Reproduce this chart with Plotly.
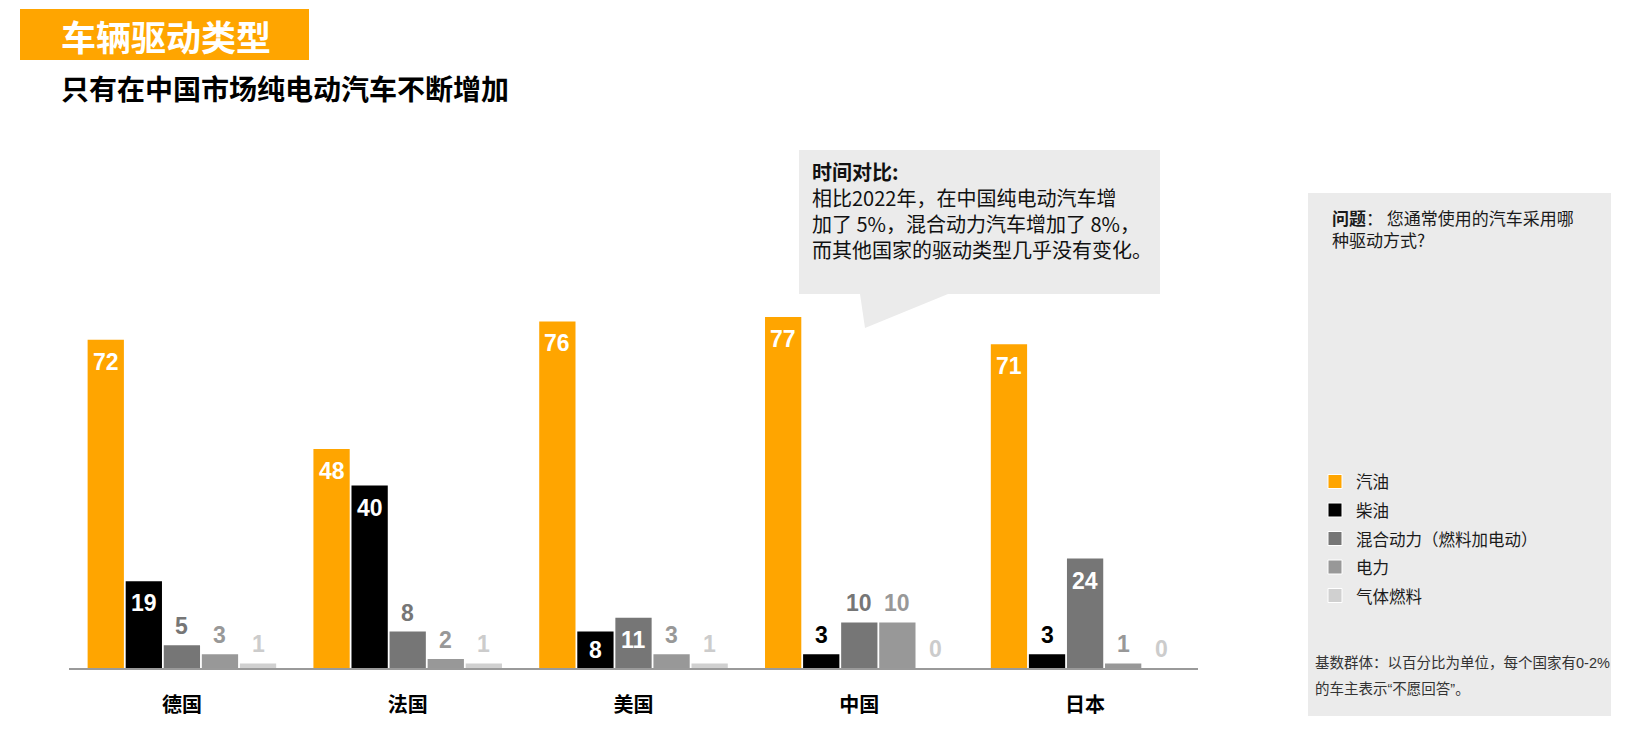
import plotly.graph_objects as go

# ---------------- data ----------------
countries = ["德国", "法国", "美国", "中国", "日本"]
series_names = ["汽油", "柴油", "混合动力（燃料加电动）", "电力", "气体燃料"]
petrol = [72, 48, 76, 77, 71]
diesel = [19, 40, 8, 3, 3]
hybrid = [5, 8, 11, 10, 24]
electric = [3, 2, 3, 10, 1]
gas = [1, 1, 1, 0, 0]

title_text = "车辆驱动类型"
subtitle_text = "只有在中国市场纯电动汽车不断增加"
callout_lines = ["<b>时间对比:</b>",
                 "相比2022年，在中国纯电动汽车增",
                 "加了 5%，混合动力汽车增加了 8%，",
                 "而其他国家的驱动类型几乎没有变化。"]
question_lines = ["<b>问题</b>： 您通常使用的汽车采用哪", "种驱动方式?"]
footnote_lines = ["基数群体：以百分比为单位，每个国家有0-2%", "的车主表示“不愿回答”。"]

# ---------------- style ----------------
series_values = [petrol, diesel, hybrid, electric, gas]
bar_colors = ["#FFA500", "#000000", "#767676", "#989898", "#D0D0D0"]
outside_label_colors = ["#FFA500", "#000000", "#767676", "#989898", "#CCCCCC"]
# which value labels sit inside their bar (white text)
inside_labels = [
    [True, True, True, True, True],
    [True, True, True, False, False],
    [False, False, True, False, True],
    [False, False, False, False, False],
    [False, False, False, False, False],
]

W, H = 1640, 734
L, R, T, B = 69, 1198, 212, 668
YMAX = 100
BARGAP = 0.157
GROUPGAP = 0.047

LAT = "Liberation Sans, Arial, Noto Sans CJK SC"
CJK = "Noto Sans CJK SC, Liberation Sans"


def px(x):
    return (x - L) / (R - L)


def py(y):
    return (B - y) / (B - T)


unit = (B - T) / YMAX  # pixels per value unit

fig = go.Figure()
for name, vals, col in zip(series_names, series_values, bar_colors):
    fig.add_trace(go.Bar(name=name, x=countries, y=vals, marker=dict(color=col, line=dict(width=0)),
                         showlegend=False, hoverinfo="x+y+name"))

annotations = []
nser = len(series_values)
slot = (1 - BARGAP) / nser
for j, vals in enumerate(series_values):
    for i, v in enumerate(vals):
        xpos = i + (j - (nser - 1) / 2) * slot
        if inside_labels[j][i]:
            yc = max(v - 22 / unit, v / 2)
            color = "#FFFFFF"
        else:
            yc = v + 19 / unit
            color = outside_label_colors[j]
        annotations.append(dict(x=xpos, y=yc, xref="x", yref="y", text=f"<b>{v}</b>",
                                showarrow=False, xanchor="center", yanchor="middle",
                                font=dict(family=LAT, size=23, color=color)))


def ptext(x, y, text, size, color, family=CJK, yanchor="middle"):
    annotations.append(dict(x=px(x), y=py(y), xref="paper", yref="paper", text=text,
                            showarrow=False, xanchor="left", yanchor=yanchor, align="left",
                            font=dict(family=family, size=size, color=color)))


# title & subtitle
ptext(59, 35.5, f"<b>{title_text}</b>", 35, "#FFFFFF")
ptext(59, 87.5, f"<b>{subtitle_text}</b>", 28, "#000000")

# callout text (one block)
ptext(810, 211, "<br>".join(callout_lines), 20, "#111111")

# question (one block)
ptext(1330, 229, "<br>".join(question_lines), 17, "#1A1A1A")

# legend (manual)
shapes = []
legend_y = [481.5, 510, 538.5, 567, 595.5]
for name, col, ly in zip(series_names, bar_colors, legend_y):
    shapes.append(dict(type="rect", xref="paper", yref="paper", x0=px(1328), x1=px(1342),
                       y0=py(ly + 7), y1=py(ly - 7), fillcolor=col,
                       line=dict(color="#FFFFFF", width=1), layer="above"))
    ptext(1354, ly, name, 16.5, "#1A1A1A")

# footnote
for k, line in enumerate(footnote_lines):
    ptext(1313, 663 + 26 * k, line, 14.5, "#333333", family=LAT)

# background shapes
shapes.insert(0, dict(type="rect", xref="paper", yref="paper", x0=px(20), x1=px(309),
                      y0=py(60), y1=py(9), fillcolor="#FFA500", line=dict(width=0), layer="below"))
shapes.insert(0, dict(type="rect", xref="paper", yref="paper", x0=px(1308), x1=px(1611),
                      y0=py(716), y1=py(193), fillcolor="#EBEBEB", line=dict(width=0), layer="below"))
callout_pts = [(799, 150), (1160, 150), (1160, 294), (948, 294), (865, 328), (860, 294), (799, 294)]
path = "M " + " L ".join(f"{px(a):.5f},{py(b):.5f}" for a, b in callout_pts) + " Z"
shapes.insert(0, dict(type="path", xref="paper", yref="paper", path=path, fillcolor="#EBEBEB",
                      line=dict(width=0), layer="below"))

fig.update_layout(
    width=W, height=H, autosize=False,
    margin=dict(l=L, r=W - R, t=T, b=H - B, pad=0),
    paper_bgcolor="#FFFFFF", plot_bgcolor="rgba(0,0,0,0)",
    barmode="group", bargap=BARGAP, bargroupgap=GROUPGAP,
    xaxis=dict(showline=True, linecolor="#9A9A9A", linewidth=1.5, showgrid=False, zeroline=False,
               ticks="", ticklabelstandoff=18,
               tickfont=dict(family=CJK, size=20, color="#000000", weight="bold"),
               fixedrange=True),
    yaxis=dict(visible=False, range=[0, YMAX], fixedrange=True),
    shapes=shapes, annotations=annotations,
    font=dict(family=CJK),
)

fig.write_html("out.html")
